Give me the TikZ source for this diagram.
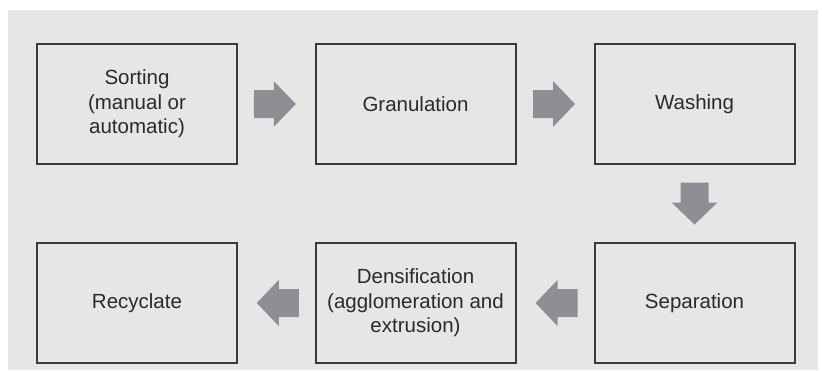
\documentclass[tikz,border=0pt]{standalone}
\usepackage{fontspec}
\setmainfont{Liberation Sans}
\usetikzlibrary{calc}
\definecolor{panel}{HTML}{E6E6E6}
\definecolor{boxline}{HTML}{3A3A3A}
\definecolor{txt}{HTML}{2A2A2A}
\definecolor{arrowgray}{HTML}{8D8F95}
\tikzset{
  stepbox/.style={draw=boxline, line width=2pt, fill=panel, minimum width=200pt,
    minimum height=120pt, inner sep=2pt, align=center, text=txt,
    font=\fontsize{20.5pt}{24.5pt}\selectfont},
  fatarrow/.pic={\fill[arrowgray] (-21,-14) -- (-1,-14) -- (-1,-23) -- (21,0)
    -- (-1,23) -- (-1,14) -- (-21,14) -- cycle;}
}
\begin{document}
\begin{tikzpicture}[x=1pt,y=-1pt]
  \useasboundingbox (0,0) rectangle (822,370);
  \fill[white] (0,0) rectangle (822,370);
  \fill[panel] (8,10) rectangle (818,370);

  % top row
  \node[stepbox] (sort) at (137,104) {Sorting\\(manual or\\automatic)};
  \node[stepbox] (gran) at (415.5,104) {Granulation};
  \node[stepbox] (wash) at (694.5,104) {Washing};
  % bottom row
  \node[stepbox] (recy) at (137,303) {Recyclate};
  \node[stepbox] (dens) at (415.5,303) {Densification\\(agglomeration and\\extrusion)};
  \node[stepbox] (sepa) at (694.5,303) {Separation};

  % block arrows between the steps
  \pic at ($(sort.east)!0.5!(gran.west)+(-1.5,0)$) {fatarrow};
  \pic at ($(gran.east)!0.5!(wash.west)+(-1,0)$) {fatarrow};
  \pic[rotate=-90] at ($(wash.south)!0.5!(sepa.north)$) {fatarrow};
  \pic[rotate=180] at ($(sepa.west)!0.5!(dens.east)+(1.5,0)$) {fatarrow};
  \pic[rotate=180] at ($(dens.west)!0.5!(recy.east)+(1.5,0)$) {fatarrow};
\end{tikzpicture}
\end{document}
